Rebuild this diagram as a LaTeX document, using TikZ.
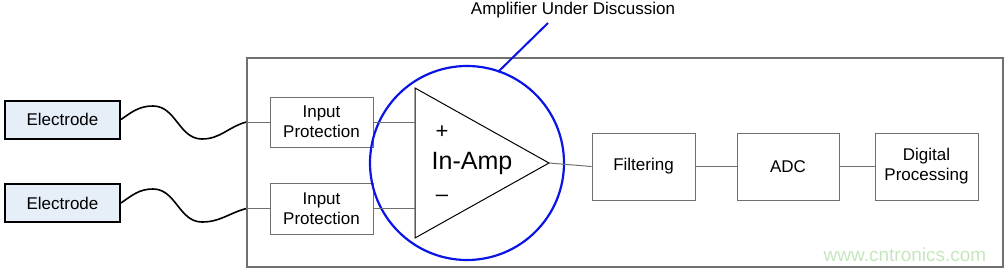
\documentclass[tikz,border=0pt]{standalone}
\usepackage{fontspec}
\setmainfont{Liberation Sans}
\definecolor{elfill}{HTML}{E6EEF8}
\definecolor{boxgray}{HTML}{707070}
\definecolor{ampblue}{HTML}{0A14E6}
\definecolor{wmgreen}{HTML}{C6E6BE}
\tikzset{
  blk/.style={draw=boxgray, line width=1pt, fill=white, minimum width=103pt, inner sep=0pt, align=center, font=\fontsize{17}{20}\selectfont},
  elec/.style={draw=black, line width=2pt, fill=elfill, minimum width=115pt, minimum height=38pt, inner sep=0pt, font=\fontsize{17}{20}\selectfont},
  wire/.style={draw=black, line width=1.6pt},
  conn/.style={draw=boxgray, line width=1pt},
}
\begin{document}
\begin{tikzpicture}[x=1pt,y=-1pt]
\useasboundingbox (0,0) rectangle (1007,270);
% frame
\node[draw=boxgray, line width=1.2pt, minimum width=756pt, minimum height=209pt, inner sep=0pt] (frame) at (625,162.5) {};
% electrodes
\node[elec] (e1) at (62.5,119.5) {Electrode};
\node[elec] (e2) at (62.5,203) {Electrode};
% input protection
\node[blk, minimum height=50pt] (ip1) at (321.5,122) {Input\\Protection};
\node[blk, minimum height=51pt] (ip2) at (321.5,208.5) {Input\\Protection};
% chain
\node[blk, minimum height=67pt] (filt) at (643.5,166.5) {Filtering};
\node[blk, minimum width=102pt, minimum height=67pt] (adc) at (788,166.5) {ADC};
\node[blk, minimum height=67pt] (dp) at (926.5,166.5) {Digital\\Processing};
% amplifier
\coordinate (tl) at (415,88);
\coordinate (bl) at (415,238);
\coordinate (tip) at (549,163);
\node[draw=ampblue, line width=2.2pt, circle, minimum size=194pt, inner sep=0pt] (ring) at (467,163) {};
\draw[black, line width=1pt, line join=miter] (tl) -- (tip) -- (bl) -- cycle;
\node[font=\fontsize{22}{24}\selectfont] (plus) at (442,132) {+};
\node[font=\fontsize{22}{24}\selectfont] (minus) at (442,198) {–};
\node[font=\fontsize{25}{28}\selectfont] (inamp) at (472,163) {In-Amp};
% connectors
\draw[conn] (ip1.east) -- (ip1.east -| tl);
\draw[conn] (ip2.east) -- (ip2.east -| tl);
\draw[conn] (tip) -- (filt.west);
\draw[conn] (filt.east) -- (adc.west);
\draw[conn] (adc.east) -- (dp.west);
% wires
\coordinate (w1) at (ip1.west -| frame.west);
\coordinate (w2) at (ip2.west -| frame.west);
\draw[wire] (e1.east) to[out=35,in=180] (153,106) to[out=0,in=180] (202,139) to[out=0,in=195] (w1);
\draw[wire] (e2.east) to[out=35,in=180] (153,189) to[out=0,in=180] (202,222) to[out=0,in=195] (w2);
\draw[conn] (w1) -- (ip1.west);
\draw[conn] (w2) -- (ip2.west);
% label
\node[font=\fontsize{17}{20}\selectfont] (lbl) at (573,10) {Amplifier Under Discussion};
\coordinate (lead) at (548,23);
\draw[ampblue, line width=2pt] (lead) -- (498,72);
% watermark
\node[text=wmgreen, font=\fontsize{19}{22}\selectfont] (wm) at (905,255) {www.cntronics.com};
\end{tikzpicture}
\end{document}
